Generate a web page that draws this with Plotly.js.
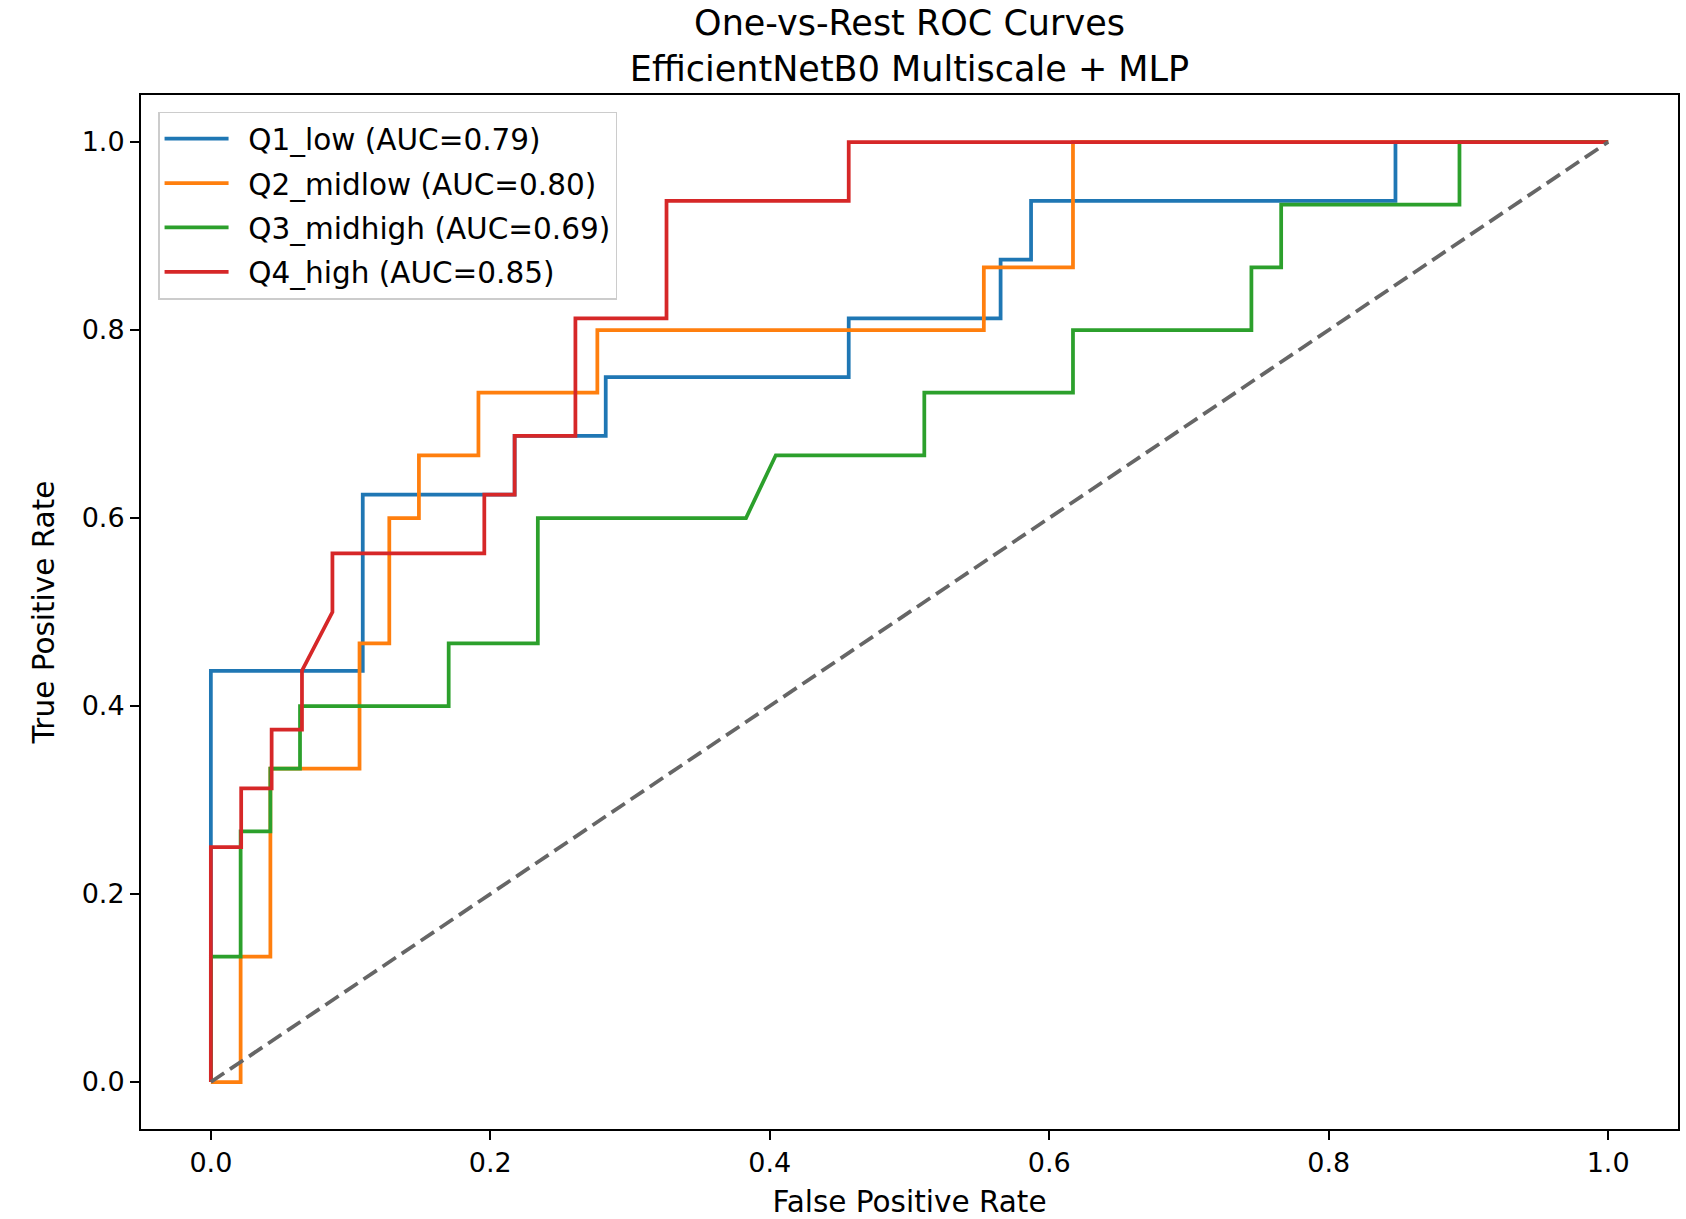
<!DOCTYPE html>
<html>
<head>
<meta charset="utf-8">
<script src="https://cdn.plot.ly/plotly-3.0.1.min.js"></script>
<style>
  html, body { margin: 0; padding: 0; background: #ffffff; }
  #chart { width: 1686px; height: 1219px; }
</style>
</head>
<body>
<div id="chart"></div>
<script>
// One-vs-rest ROC curves for the four quartile classes
const classNames = ["Q1_low", "Q2_midlow", "Q3_midhigh", "Q4_high"];
const aucValues = [0.79, 0.80, 0.69, 0.85];
const classColors = ["#1f77b4", "#ff7f0e", "#2ca02c", "#d62728"];

const fprQ1 = [0, 0, 0.1087, 0.1087, 0.2174, 0.2174, 0.2826, 0.2826, 0.4565, 0.4565, 0.5652, 0.5652, 0.5870, 0.5870, 0.8478, 0.8478, 1.0];
const tprQ1 = [0, 0.4375, 0.4375, 0.625, 0.625, 0.6875, 0.6875, 0.75, 0.75, 0.8125, 0.8125, 0.875, 0.875, 0.9375, 0.9375, 1.0, 1.0];

const fprQ2 = [0, 0.0213, 0.0213, 0.0426, 0.0426, 0.1064, 0.1064, 0.1277, 0.1277, 0.1489, 0.1489, 0.1915, 0.1915, 0.2766, 0.2766, 0.5532, 0.5532, 0.6170, 0.6170, 1.0];
const tprQ2 = [0, 0, 0.1333, 0.1333, 0.3333, 0.3333, 0.4667, 0.4667, 0.6, 0.6, 0.6667, 0.6667, 0.7333, 0.7333, 0.8, 0.8, 0.8667, 0.8667, 1.0, 1.0];

const fprQ3 = [0, 0, 0.0213, 0.0213, 0.0426, 0.0426, 0.0638, 0.0638, 0.1702, 0.1702, 0.2340, 0.2340, 0.3830, 0.4043, 0.5106, 0.5106, 0.6170, 0.6170, 0.7447, 0.7447, 0.7660, 0.7660, 0.8936, 0.8936, 1.0];
const tprQ3 = [0, 0.1333, 0.1333, 0.2667, 0.2667, 0.3333, 0.3333, 0.4, 0.4, 0.4667, 0.4667, 0.6, 0.6, 0.6667, 0.6667, 0.7333, 0.7333, 0.8, 0.8, 0.8667, 0.8667, 0.9333, 0.9333, 1.0, 1.0];

const fprQ4 = [0, 0, 0.0217, 0.0217, 0.0435, 0.0435, 0.0652, 0.0652, 0.0870, 0.0870, 0.1957, 0.1957, 0.2174, 0.2174, 0.2609, 0.2609, 0.3261, 0.3261, 0.4565, 0.4565, 1.0];
const tprQ4 = [0, 0.25, 0.25, 0.3125, 0.3125, 0.375, 0.375, 0.4375, 0.5, 0.5625, 0.5625, 0.625, 0.625, 0.6875, 0.6875, 0.8125, 0.8125, 0.9375, 0.9375, 1.0, 1.0];

// chance line
const chanceX = [0, 1];
const chanceY = [0, 1];

const tickVals = [0, 0.2, 0.4, 0.6, 0.8, 1.0];
const tickText = ["0.0", "0.2", "0.4", "0.6", "0.8", "1.0"];

const fprSets = [fprQ1, fprQ2, fprQ3, fprQ4];
const tprSets = [tprQ1, tprQ2, tprQ3, tprQ4];

const FONT = "DejaVu Sans, Verdana, sans-serif";

const traces = classNames.map((name, i) => ({
  type: "scatter",
  mode: "lines",
  x: fprSets[i],
  y: tprSets[i],
  name: "\u2002" + name + " (AUC=" + aucValues[i].toFixed(2) + ")",
  legendgroup: name,
  line: { color: classColors[i], width: 3.75 },
  hoverinfo: "x+y+name"
}));

traces.push({
  type: "scatter",
  mode: "lines",
  x: chanceX,
  y: chanceY,
  showlegend: false,
  line: { color: "#666666", width: 3.75, dash: "16px,7px" },
  hoverinfo: "skip"
});

const axisCommon = {
  range: [-0.05, 1.05],
  tickmode: "array",
  tickvals: tickVals,
  ticktext: tickText,
  ticks: "outside",
  ticklen: 9,
  tickwidth: 2,
  tickcolor: "#000000",
  showline: true,
  linecolor: "#000000",
  linewidth: 2,
  mirror: true,
  showgrid: false,
  zeroline: false,
  tickfont: { family: FONT, size: 27, color: "#000000" },
  automargin: false
};

const layout = {
  width: 1686,
  height: 1219,
  paper_bgcolor: "#ffffff",
  plot_bgcolor: "#ffffff",
  margin: { l: 141, r: 8, t: 95, b: 90 },
  title: {
    text: "One-vs-Rest ROC Curves<br>EfficientNetB0 Multiscale + MLP",
    font: { family: FONT, size: 35, color: "#000000" },
    x: 0.5,
    xref: "paper",
    xanchor: "center",
    y: 1,
    yref: "paper",
    yanchor: "bottom",
    pad: { b: 60 }
  },
  xaxis: Object.assign({}, axisCommon, {
    title: { text: "False Positive Rate", font: { family: FONT, size: 29.5, color: "#000000" }, standoff: 15 }
  }),
  yaxis: Object.assign({}, axisCommon, {
    title: { text: "True Positive Rate", font: { family: FONT, size: 29.5, color: "#000000" }, standoff: 18 }
  }),
  showlegend: true,
  legend: {
    x: 0.0111,
    y: 0.984,
    xanchor: "left",
    yanchor: "top",
    bgcolor: "rgba(255,255,255,0.8)",
    bordercolor: "#cccccc",
    borderwidth: 1.5,
    font: { family: FONT, size: 29.5, color: "#000000" },
    tracegroupgap: 3,
    itemwidth: 64
  }
};

Plotly.newPlot("chart", traces, layout, { displayModeBar: false, responsive: false });
</script>
</body>
</html>
